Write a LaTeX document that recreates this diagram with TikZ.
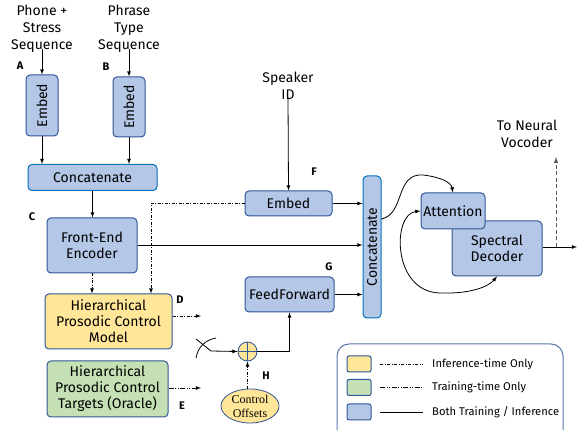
\documentclass[tikz,border=0pt]{standalone}
\usepackage{fontspec}
\setmainfont{Fira Sans}
\newfontfamily\offsetfont{Liberation Serif}
\usepackage{tikz}
\usetikzlibrary{shapes.geometric}

\definecolor{boxblue}{HTML}{B4C7E7}
\definecolor{boxedge}{HTML}{2F5597}
\definecolor{catedge}{HTML}{0070C0}
\definecolor{boxyellow}{HTML}{FFE699}
\definecolor{boxgreen}{HTML}{C5E0B4}

\tikzset{
    block/.style={draw=boxedge, line width=1pt, rounded corners=4pt,
        fill=boxblue, inner sep=0pt, align=center,
        font=\fontsize{14}{16}\selectfont},
    catblock/.style={block, draw=catedge},
    caption/.style={align=center, inner sep=1pt, font=\fontsize{14}{17}\selectfont},
    tag/.style={font=\bfseries\fontsize{11}{12}\selectfont},
    conn/.style={-latex, line width=0.8pt},
    infer/.style={dash pattern=on 3pt off 1.5pt on 1pt off 1.5pt},
    train/.style={dash pattern=on 5pt off 1.5pt on 1pt off 1.5pt on 1pt off 1.5pt},
}

\begin{document}
\begin{tikzpicture}[x=1pt, y=-1pt]
    \useasboundingbox (0,0) rectangle (579,430);

    % input sequences
    \node[caption] (phone) at (42,29) {Phone +\\Stress\\Sequence};
    \node[caption] (phrase) at (129,29) {Phrase\\Type\\Sequence};

    % embedding layers
    \node[block,
    minimum width = 32,
    minimum height = 61] (embA) at (42,105.5) {\rotatebox{90}{Embed}};
    \node[block,
    minimum width = 32,
    minimum height = 60] (embB) at (129,107) {\rotatebox{90}{Embed}};

    % first concatenation
    \node[catblock,
    minimum width = 129,
    minimum height = 26] (catA) at (92.5,177.5) {Concatenate};

    % front-end encoder
    \node[block,
    minimum width = 90,
    minimum height = 55] (fee) at (92,245.5) {Front-End\\Encoder};

    % prosodic control model and targets
    \node[block,
    fill=boxyellow,
    minimum width = 127,
    minimum height = 55] (hpcm) at (108.5,321.5) {Hierarchical\\Prosodic Control\\Model};
    \node[block,
    fill=boxgreen,
    minimum width = 121,
    minimum height = 56] (hpct) at (107.5,389) {Hierarchical\\Prosodic Control\\Targets (Oracle)};

    % speaker branch
    \node[caption] (speaker) at (288,86) {Speaker\\ID};
    \node[block,
    minimum width = 87,
    minimum height = 25] (embS) at (288.5,203.5) {Embed};

    % feed forward over the control values
    \node[block,
    minimum width = 89,
    minimum height = 35] (ff) at (289.5,294.5) {FeedForward};

    % summing junction
    \node[draw=boxedge,
    line width=0.8pt,
    circle,
    fill=boxyellow,
    minimum size = 19,
    inner sep=0pt] (plus) at (247.5,351.5) {};
    \draw[boxedge, line width=0.8pt] (plus.north) -- (plus.south);
    \draw[boxedge, line width=0.8pt] (plus.west) -- (plus.east);

    % control offsets
    \node[draw=boxedge,
    line width=0.8pt,
    ellipse,
    fill=boxyellow,
    minimum width = 58,
    minimum height = 34,
    inner sep=0pt,
    align=center,
    font=\offsetfont\fontsize{12}{14}\selectfont] (ctrl) at (250,406) {Control\\Offsets};

    % second concatenation
    \node[catblock,
    minimum width = 18,
    minimum height = 142] (catB) at (372,247) {\rotatebox{90}{Concatenate}};

    % decoder
    \node[block,
    minimum width = 90,
    minimum height = 55] (spec) at (497,248.5) {Spectral\\Decoder};
    \node[block,
    minimum width = 64,
    minimum height = 36] (attn) at (453,211) {Attention};

    \node[caption] (vocoder) at (527,134) {To Neural\\Vocoder};

    % labels
    \node[tag] (tA) at (20,66) {A};
    \node[tag] (tB) at (106,67) {B};
    \node[tag] (tC) at (32,217) {C};
    \node[tag] (tD) at (180,300) {D};
    \node[tag] (tE) at (182,406) {E};
    \node[tag] (tF) at (314,172) {F};
    \node[tag] (tG) at (329,267) {G};
    \node[tag] (tH) at (266,376) {H};

    % free ends
    \coordinate (dEnd) at (201,316);
    \coordinate (eEnd) at (201,388);
    \coordinate (lever) at (196,339);
    \coordinate (pivot) at (211,351);
    \coordinate (arcLow) at (196,358);
    \coordinate (arcHigh) at (216,338);
    \coordinate (outEnd) at (577,247);
    \coordinate (vocTap) at (556,247);
    \coordinate (vocTip) at (556,157);

    % drawing connectors
    \draw[conn] ([yshift=5pt]phone.south) -- (embA.north);
    \draw[conn] ([yshift=5pt]phrase.south) -- (embB.north);
    \draw[conn] (embA.south) -- (embA.south |- catA.north);
    \draw[conn] (embB.south) -- (embB.south |- catA.north);
    \draw[conn] (catA.south) -- (catA.south |- fee.north);
    \draw[conn] (fee.east |- 0,245) -- (catB.west |- 0,245);
    \draw[conn, infer] (fee.south) -- (fee.south |- hpcm.north);
    \draw[conn, infer] (embS.west) -| ([xshift=42.5pt]hpcm.north);
    \draw[conn] ([yshift=4pt]speaker.south) -- (embS.north);
    \draw[conn] (embS.east) -- (embS.east -| catB.west);
    \draw[conn] (ff.east) -- (ff.east -| catB.west);
    \draw[conn, infer] (dEnd -| hpcm.east) -- (dEnd);
    \draw[conn, train] (eEnd -| hpct.east) -- (eEnd);
    \draw[line width=0.8pt] (lever) -- (pivot);
    \draw[line width=0.8pt] (arcLow) .. controls (198,347) and (205,340) .. (arcHigh);
    \draw[conn] (pivot) -- (plus.west);
    \draw[conn] (plus.east) -| (ff.south);
    \draw[conn, infer] (plus.south |- ctrl.north) -- (plus.south);

    % attention loop
    \draw[conn] (catB.east |- 0,219) .. controls (405,214) and (395,173) .. (423,175)
        .. controls (440,177) and (451,182) .. (attn.north);
    \draw[latex-latex, line width=0.8pt] (attn.west) .. controls (392,214) and (392,292) .. (440,293)
        .. controls (470,294) and (488,287) .. (spec.south);

    % output
    \draw[conn] (spec.east |- outEnd) -- (outEnd);
    \draw[-latex, line width=1pt, dash pattern=on 4pt off 2.5pt, draw=black!65] (vocTap) -- (vocTip);

    % legend
    \draw[draw=boxedge!80, line width=1pt, rounded corners=12pt] (337,344) rectangle (563,445);
    \foreach \i/\col/\sty/\txt/\y in {1/boxyellow/infer/{Inference-time Only}/364,
                                      2/boxgreen/train/{Training-time Only}/387.5,
                                      3/boxblue/solid/{Both Training / Inference}/412}
    {
        \node[draw=boxedge,
        line width=1pt,
        rounded corners=2pt,
        fill=\col,
        minimum width = 24,
        minimum height = 16] (key-\i) at (359,\y) {};
        \draw[\sty, line width=0.7pt] (380,\y) -- (423,\y);
        \node[anchor=west,
        inner sep=0pt,
        font=\fontsize{11.2}{12}\selectfont] (keytxt-\i) at (432,\y) {\txt};
    }

\end{tikzpicture}
\end{document}
